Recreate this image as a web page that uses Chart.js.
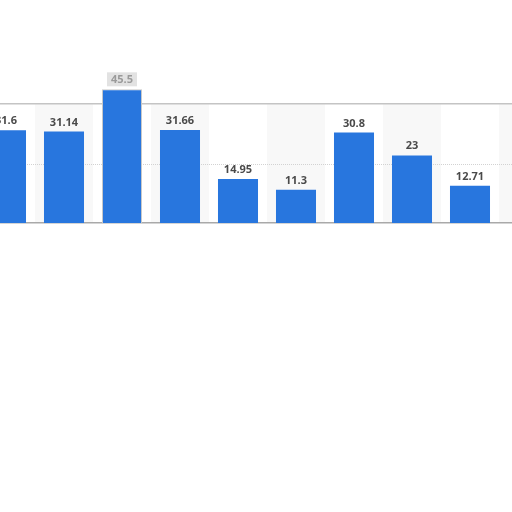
<!DOCTYPE html>
<html>
  <head>
    <title>Bars</title>
    <script src="https://cdn.jsdelivr.net/npm/chart.js"></script>
    <style>
      html, body { margin: 0; padding: 0; background: #fff; overflow: hidden; }
      #wrap { position: absolute; left: -23px; top: 0; width: 580px; height: 512px; }
    </style>
  </head>
  <body>
    <div id="wrap"><canvas id="myChart"></canvas></div>
    <script>
      // categories are not labelled in the picture, only the values are
      var categories = ["c1", "c2", "c3", "c4", "c5", "c6", "c7", "c8", "c9", "c10"];
      var values = [31.6, 31.14, 45.5, 31.66, 14.95, 11.3, 30.8, 23, 12.71, null];
      var yTicks = [20];
      var yMax = 40.5;

      var barBlue = "rgb(40,118,222)";

      // light gray band behind every other category (drawn before the axes)
      var bands = {
        id: "bands",
        beforeDraw: function (chart) {
          var ctx = chart.ctx, x = chart.scales.x, area = chart.chartArea;
          var step = x.getPixelForValue(1) - x.getPixelForValue(0);
          ctx.save();
          ctx.fillStyle = "#f8f8f8";
          for (var i = 1; i < categories.length; i += 2) {
            var cx = x.getPixelForValue(i);
            ctx.fillRect(cx - step / 2, area.top, step, area.bottom - area.top);
          }
          ctx.restore();
        }
      };

      // value labels above the bars
      var valueLabels = {
        id: "valueLabels",
        afterDatasetsDraw: function (chart) {
          var ctx = chart.ctx;
          var meta = chart.getDatasetMeta(0);
          ctx.save();
          ctx.font = "bold 11px 'Open Sans'";
          ctx.textAlign = "center";
          ctx.textBaseline = "alphabetic";
          meta.data.forEach(function (bar, i) {
            var v = values[i];
            if (v === null) return;
            var txt = String(v);
            if (i === 2) {
              var w = ctx.measureText(txt).width + 8;
              ctx.filter = "blur(0.7px)";
              ctx.fillStyle = "#e2e2e2";
              ctx.fillRect(bar.x - w / 2, bar.y - 17, w, 14);
              ctx.fillStyle = "#9a9a9a";
              ctx.fillText(txt, bar.x, bar.y - 6);
              ctx.filter = "none";
            } else {
              ctx.fillStyle = "#4a4a4a";
              ctx.fillText(txt, bar.x, bar.y - 6);
            }
          });
          ctx.restore();
        }
      };

      var ctx = document.getElementById("myChart").getContext("2d");
      var myChart = new Chart(ctx, {
        type: "bar",
        data: {
          labels: categories,
          datasets: [
            {
              data: values,
              backgroundColor: barBlue,
              borderColor: function (c) { return c.dataIndex === 2 ? "#c9c9c9" : barBlue; },
              borderWidth: function (c) { return c.dataIndex === 2 ? 1 : 0; },
              barPercentage: 0.69,
              categoryPercentage: 1,
              clip: false
            }
          ]
        },
        options: {
          responsive: true,
          maintainAspectRatio: false,
          animation: false,
          layout: { padding: { top: 96, bottom: 281, left: 0, right: 0 } },
          plugins: {
            legend: { display: false },
            tooltip: { enabled: false }
          },
          scales: {
            x: {
              grid: { display: false },
              ticks: { display: false },
              border: { color: "#a9a9a9", width: 1.5 }
            },
            x2: {
              position: "top",
              labels: categories,
              grid: { display: false },
              ticks: { display: false },
              border: { color: "#c4c4c4", width: 1.5 }
            },
            y: {
              min: 0,
              max: yMax,
              afterBuildTicks: function (axis) {
                axis.ticks = yTicks.map(function (v) { return { value: v }; });
              },
              ticks: { display: false },
              grid: { color: "#d2d2d2", drawTicks: false, lineWidth: 1 },
              border: { display: false, dash: [1, 1] }
            }
          }
        },
        plugins: [bands, valueLabels]
      });
    </script>
  </body>
</html>
